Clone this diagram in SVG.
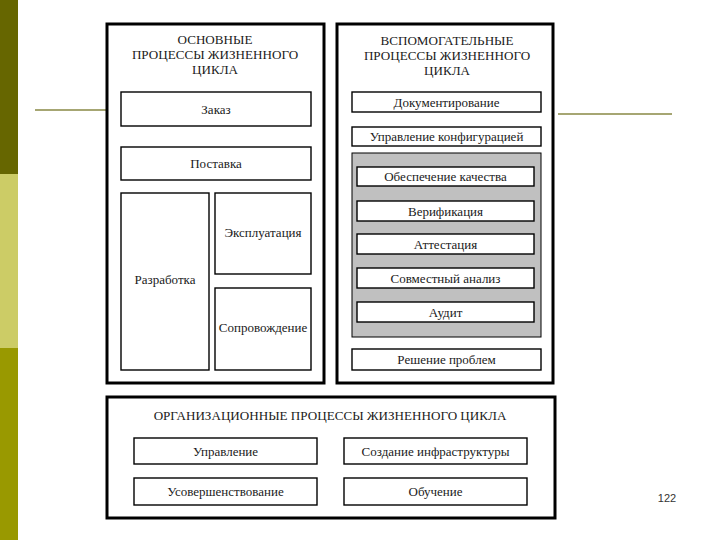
<svg xmlns="http://www.w3.org/2000/svg" width="720" height="540" viewBox="0 0 720 540">
<style>
.outer{fill:#fff;stroke:#000;stroke-width:3}
.box{fill:#fff;stroke:#000;stroke-width:1.4}
.gray{fill:#c0c0c0;stroke:#000;stroke-width:1}
text{font-family:"Liberation Serif","Times New Roman",serif;fill:#1a1a1a;text-anchor:middle;dominant-baseline:central}
.t{font-size:13px}
.h{font-size:13.1px}
.pg{font-family:"Liberation Sans",Arial,sans-serif;font-size:11px;fill:#333}
</style>
<rect width="720" height="540" fill="#fff"/>
<g id="sidebar">
<rect x="0" y="0" width="18" height="174" fill="#666600"/>
<rect x="0" y="174" width="18" height="174" fill="#cccc66"/>
<rect x="0" y="348" width="18" height="192" fill="#999900"/>
<line x1="35" y1="110" x2="106" y2="110" stroke="#a6a673" stroke-width="2"/>
<line x1="558" y1="114" x2="672" y2="114" stroke="#a6a673" stroke-width="2"/>
</g>
<g id="main">
<rect class="outer" x="107" y="24" width="217" height="359"/>
<text class="h" x="215" y="39">ОСНОВНЫЕ</text>
<text class="h" x="215" y="54">ПРОЦЕССЫ ЖИЗНЕННОГО</text>
<text class="h" x="215" y="69">ЦИКЛА</text>
</g>
<g id="order"><rect class="box" x="121" y="92" width="190" height="34"/><text class="t" x="216" y="109">Заказ</text></g>
<g id="supply"><rect class="box" x="121" y="147" width="190" height="33"/><text class="t" x="216" y="163.5">Поставка</text></g>
<g id="dev"><rect class="box" x="121" y="193" width="88" height="177"/><text class="t" x="165" y="279">Разработка</text></g>
<g id="oper"><rect class="box" x="215" y="193" width="96" height="81"/><text class="t" x="263" y="232">Эксплуатация</text></g>
<g id="maint"><rect class="box" x="215" y="288" width="96" height="82"/><text class="t" x="263" y="327">Сопровождение</text></g>
<g id="support">
<rect class="outer" x="337" y="24" width="216" height="359"/>
<text class="h" x="447" y="40">ВСПОМОГАТЕЛЬНЫЕ</text>
<text class="h" x="447" y="55">ПРОЦЕССЫ ЖИЗНЕННОГО</text>
<text class="h" x="447" y="70">ЦИКЛА</text>
</g>
<g id="doc"><rect class="box" x="352" y="92" width="189" height="20"/><text class="t" x="446.5" y="102">Документирование</text></g>
<g id="config"><rect class="box" x="352" y="127" width="189" height="19"/><text class="t" x="446.5" y="136.5">Управление конфигурацией</text></g>
<g id="quality-group"><rect class="gray" x="352" y="153" width="189" height="184"/></g>
<g id="quality"><rect class="box" x="357" y="167" width="177" height="19"/><text class="t" x="445.5" y="176.5">Обеспечение качества</text></g>
<g id="verif"><rect class="box" x="357" y="201" width="177" height="20"/><text class="t" x="445.5" y="211">Верификация</text></g>
<g id="attest"><rect class="box" x="357" y="234" width="177" height="20"/><text class="t" x="445.5" y="244">Аттестация</text></g>
<g id="review"><rect class="box" x="357" y="268" width="177" height="20"/><text class="t" x="445.5" y="278">Совместный анализ</text></g>
<g id="audit"><rect class="box" x="357" y="302" width="177" height="20"/><text class="t" x="445.5" y="312">Аудит</text></g>
<g id="problem"><rect class="box" x="352" y="349" width="189" height="21"/><text class="t" x="446.5" y="359.5">Решение проблем</text></g>
<g id="org">
<rect class="outer" x="107" y="397" width="448" height="121"/>
<text class="h" x="330" y="415">ОРГАНИЗАЦИОННЫЕ ПРОЦЕССЫ ЖИЗНЕННОГО ЦИКЛА</text>
</g>
<g id="mgmt"><rect class="box" x="134" y="438" width="183" height="26"/><text class="t" x="225.5" y="451">Управление</text></g>
<g id="infra"><rect class="box" x="344" y="438" width="183" height="26"/><text class="t" x="435.5" y="451">Создание инфраструктуры</text></g>
<g id="improve"><rect class="box" x="134" y="478" width="183" height="27"/><text class="t" x="225.5" y="491.5">Усовершенствование</text></g>
<g id="train"><rect class="box" x="344" y="478" width="183" height="27"/><text class="t" x="435.5" y="491.5">Обучение</text></g>
<g id="connectors"></g>
<text class="pg" x="667" y="498">122</text>
</svg>
